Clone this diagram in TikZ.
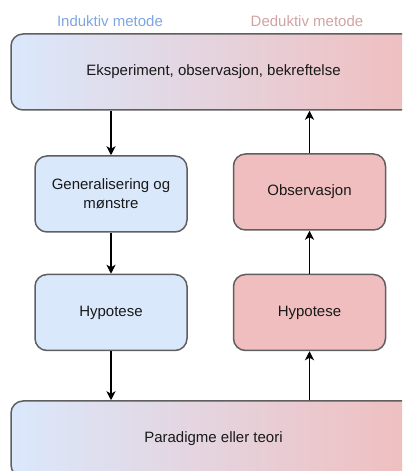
\documentclass[tikz,border=0pt]{standalone}
\usepackage{fontspec}
\setmainfont{Liberation Sans}
\usetikzlibrary{arrows.meta,positioning,calc}
\definecolor{indblue}{HTML}{DAE8FC}
\definecolor{dedred}{HTML}{F0BEBE}
\definecolor{indtext}{HTML}{7EA6E0}
\definecolor{dedtext}{HTML}{D0A3A3}
\definecolor{edge}{HTML}{5F5F5F}
\tikzset{
  box/.style={draw=edge, line width=1.5pt, rounded corners=12pt, minimum width=152pt,
    minimum height=76pt, align=center, font=\fontsize{15}{19}\selectfont, text=black!90},
  indbox/.style={box, fill=indblue},
  dedbox/.style={box, fill=dedred},
  widebox/.style={box, minimum width=405pt, left color=indblue, right color=dedred},
  heading/.style={font=\fontsize{15}{19}\selectfont},
  arrow/.style={-{Stealth[length=9pt, width=9pt, inset=2.5pt]}, line width=1.4pt},
}

\begin{document}
\begin{tikzpicture}[x=1pt,y=1pt]
  % frame
  \useasboundingbox (0,0) rectangle (402,471);
  \clip (0,0) rectangle (402,471);
  % headings
  \node[heading, text=indtext] (indhead) at (110,450) {Induktiv metode};
  \node[heading, text=dedtext] (dedhead) at (307,450) {Deduktiv metode};
  % wide boxes
  \node[widebox] (eksp) at (213.5,399) {Eksperiment, observasjon, bekreftelse};
  \node[widebox] (teori) at (213.5,32) {Paradigme eller teori};
  % induktiv
  \node[indbox] (gen) at (111,277) {Generalisering og\\mønstre};
  \node[indbox] (hypind) at (111,158.5) {Hypotese};
  % deduktiv
  \node[dedbox] (obs) at (309.5,279) {Observasjon};
  \node[dedbox] (hypded) at (309.5,158.5) {Hypotese};
  % arrows
  \draw[arrow] (eksp.south -| gen.north) -- (gen.north);
  \draw[arrow] (gen) -- (hypind);
  \draw[arrow] (hypind.south) -- (teori.north -| hypind.south);
  \draw[arrow] (teori.north -| hypded.south) -- (hypded.south);
  \draw[arrow] (hypded) -- (obs);
  \draw[arrow] (obs.north) -- (eksp.south -| obs.north);
\end{tikzpicture}
\end{document}
